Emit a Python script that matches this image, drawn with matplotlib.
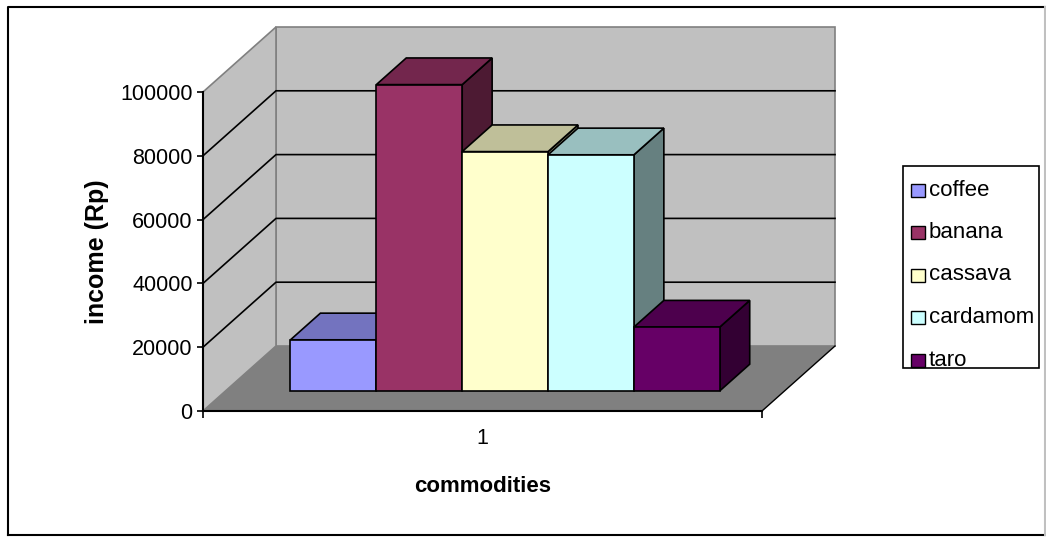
import matplotlib.pyplot as plt
from matplotlib.patches import Polygon, Rectangle
from matplotlib.colors import to_rgb

commodities = ["coffee", "banana", "cassava", "cardamom", "taro"]
income = [16000, 96000, 75000, 74000, 20000]
colors = ["#9999FF", "#993366", "#FFFFCC", "#CCFFFF", "#660066"]
yticks = [0, 20000, 40000, 60000, 80000, 100000]
category = "1"

plt.rcParams["font.family"] = ["Liberation Sans", "DejaVu Sans"]

W, H = 1046, 537
fig = plt.figure(figsize=(W / 100, H / 100), dpi=100)

# page frame + legend live on a pixel-space overlay
ov = fig.add_axes([0, 0, 1, 1])
ov.set_xlim(0, W)
ov.set_ylim(H, 0)
ov.axis("off")
ov.plot([8, 8, 1045], [535, 7, 7], color="black", lw=1.5)
ov.plot([8, 1045], [535, 535], color="black", lw=1.5)
ov.plot([1045, 1045], [7, 535], color="#C0C0C0", lw=1.5)

# front edge of the floor / value axis in pixels
x0, x1, y0, y1 = 203, 762, 411, 92
ax = fig.add_axes([x0 / W, 1 - y0 / H, (x1 - x0) / W, (y0 - y1) / H])
ax.set_xlim(0, 1)
ax.set_ylim(0, yticks[-1])
ax.patch.set_visible(False)

# depth offset (pixels) of the back wall
DX, DY = 73, 65
kx = DX / (x1 - x0)
kv = DY / (y0 - y1) * yticks[-1]


def p(x, d, v):
    return (x + d * kx, v + d * kv)


def face(pts, fc, ec="black", lw=1.2, z=1):
    ax.add_patch(Polygon(pts, closed=True, facecolor=fc, edgecolor=ec,
                         linewidth=lw, zorder=z, clip_on=False,
                         joinstyle="miter"))


def shade(c, f):
    return tuple(v * f for v in to_rgb(c))


top = yticks[-1]
# walls and floor
face([p(0, 1, 0), p(1, 1, 0), p(1, 1, top), p(0, 1, top)], "#C0C0C0", "#808080", 1.2, 0.5)
face([p(0, 0, 0), p(0, 1, 0), p(0, 1, top), p(0, 0, top)], "#C0C0C0", "#808080", 1.2, 0.5)
face([p(0, 0, 0), p(1, 0, 0), p(1, 1, 0), p(0, 1, 0)], "#808080", "none", 0, 0.6)
ax.plot(*zip(p(1, 0, 0), p(1, 1, 0)), color="black", lw=1.0, zorder=0.7, clip_on=False)

# gridlines along side wall and back wall
for v in yticks[1:-1]:
    pts = [p(0, 0, v), p(0, 1, v), p(1, 1, v)]
    ax.plot(*zip(*pts), color="black", lw=1.2, zorder=0.8, clip_on=False)

# bars
group = 0.768
w = group / len(income)
start = 0.5 - group / 2
d0, d1 = 0.31, 0.72
for i, (v, c) in enumerate(zip(income, colors)):
    xl = start + i * w
    xr = xl + w
    z = 2 + i
    face([p(xr, d0, 0), p(xr, d1, 0), p(xr, d1, v), p(xr, d0, v)], shade(c, 0.5), z=z)
    face([p(xl, d0, v), p(xr, d0, v), p(xr, d1, v), p(xl, d1, v)], shade(c, 0.75), z=z)
    face([p(xl, d0, 0), p(xr, d0, 0), p(xr, d0, v), p(xl, d0, v)], c, z=z)

# axes
for s in ["top", "right"]:
    ax.spines[s].set_visible(False)
for s in ["left", "bottom"]:
    ax.spines[s].set_linewidth(1.5)
    ax.spines[s].set_zorder(10)
ax.set_yticks(yticks)
ax.set_yticklabels([str(t) for t in yticks])
ax.tick_params(axis="y", direction="out", length=4.5, width=1.2, labelsize=15.5, pad=3)
ax.set_xticks([0, 1])
ax.set_xticklabels(["", ""])
ax.set_xticks([0.5], minor=True)
ax.set_xticklabels([category], minor=True)
ax.tick_params(axis="x", which="major", direction="out", length=5, width=1.2)
ax.tick_params(axis="x", which="minor", length=0, labelsize=15.5, pad=12)

ax.set_ylabel("income (Rp)", fontsize=18, fontweight="bold", va="center", ha="center")
ax.yaxis.set_label_coords(-0.19, 0.5)
ax.set_xlabel("commodities", fontsize=16, fontweight="bold", va="center", ha="center")
ax.xaxis.set_label_coords(0.5, -0.238)

# legend
ov.add_patch(Rectangle((903, 166), 136, 202, facecolor="white", edgecolor="black", lw=1.2))
for i, (name, c) in enumerate(zip(commodities, colors)):
    y = 190 + i * 42.5
    ov.add_patch(Rectangle((911, y - 6.5), 14, 13, facecolor=c, edgecolor="black", lw=1.0))
    ov.text(929, y, name, fontsize=16, va="center", ha="left")

fig.savefig("out.png", dpi=100)
